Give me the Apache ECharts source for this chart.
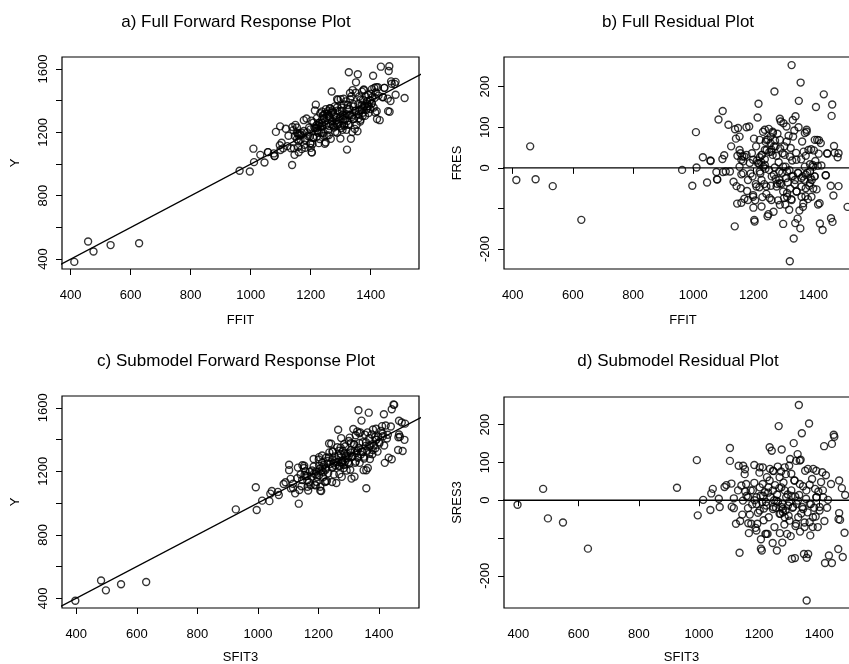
<!DOCTYPE html>
<html lang="en">
<head>
<meta charset="UTF-8" />
<title>Forward response and residual plots</title>
<script src="https://cdn.jsdelivr.net/npm/echarts@6.0.0/dist/echarts.min.js"></script>
<style>html,body{margin:0;padding:0;background:#fff}</style>
</head>
<body>
<div id="main" style="width:849px;height:664px"></div>
<script>
// full model: fitted values and residuals
const ffit = [412,458,476,533,628,963,997,1009,1011,1032,
  1046,1058,1077,1080,1084,1097,1099,1098,1103,1108,
  1117,1122,1126,1134,1138,1139,1142,1144,1146,1147,
  1149,1154,1154,1157,1158,1160,1160,1163,1166,1170,
  1170,1177,1179,1182,1186,1188,1191,1195,1199,1200,
  1202,1203,1204,1206,1208,1209,1212,1214,1217,1219,
  1220,1221,1223,1226,1227,1229,1230,1232,1233,1236,
  1238,1240,1241,1243,1244,1247,1248,1250,1251,1253,
  1254,1257,1258,1260,1261,1264,1264,1267,1270,1269,
  1271,1272,1274,1277,1279,1280,1282,1284,1286,1288,
  1289,1291,1293,1296,1297,1299,1300,1302,1303,1306,
  1307,1309,1311,1312,1314,1317,1319,1320,1321,1322,
  1324,1326,1327,1329,1331,1332,1334,1336,1337,1339,
  1340,1342,1344,1347,1348,1350,1351,1353,1356,1357,
  1359,1360,1362,1364,1366,1367,1369,1371,1373,1374,
  1377,1379,1381,1383,1386,1388,1390,1392,1394,1397,
  1399,1401,1403,1406,1408,1410,1412,1414,1417,1420,
  1421,1424,1426,1430,1434,1440,1446,1457,1458,1460,
  1462,1463,1466,1468,1470,1480,1483,1483,1513,
  1177,1199,1215,1227,1238,1243,1257,1265,1260,1274,
  1288,1299,1312,1327,1338,1349,1360,1374,1388,1399,
  1404,1371,1343,1321,1304,1288,1277,1299,1312,1327,
  1343,1360,1374,1388,1243,1227,1210,1197,1182,1166,
  1154,1160,1221,1238,1252,1268,1286,1221,1238,1310,
  1332,1199,1260,1288,1365,1393,1404,1377,1079,1057,
  1418,1445,1441,1415];
const fres = [-30,53,-28,-45,-128,-5,-44,88,1,26,
  -36,17,-10,-29,119,22,-10,140,31,-9,
  106,-9,53,-34,-144,95,72,-45,-88,30,
  98,77,44,36,-50,-86,-16,28,16,-76,
  28,100,-57,-79,102,12,-14,36,-67,-98,
  72,-128,-132,-80,-40,53,18,124,158,10,
  -48,26,-14,14,-95,32,-72,89,3,-40,
  21,-2,64,-64,44,-119,70,-114,96,39,
  -74,77,-44,45,-21,89,32,-108,188,53,
  1,67,-27,30,-39,84,-80,14,-30,121,
  48,114,-39,-12,36,-138,110,-74,53,-90,
  3,-25,65,-62,-36,79,-103,-6,-230,-51,
  49,-77,253,18,118,-20,-174,92,-40,-136,
  127,37,-58,-125,-12,100,165,-105,-149,210,
  21,-46,65,-21,-87,40,-29,86,-70,30,
  89,-12,-77,44,-44,9,-24,46,-30,7,
  -51,43,-21,17,150,-53,69,5,35,-87,
  -137,61,6,-153,181,-18,35,-44,-124,128,
  156,-133,-68,54,37,26,-45,36,-96,
  32,20,12,32,44,69,61,86,40,53,
  69,3,-9,-21,-30,-13,-25,-17,-9,3,
  -21,3,20,28,32,-38,-46,-58,-71,-79,
  -58,-71,-50,-38,-46,-30,-46,-21,-30,-13,
  3,20,-9,7,-5,-17,-9,69,94,102,
  77,-71,-79,-91,-96,-71,69,94,-28,18,
  68,36,-18,-90];

// submodel: fitted values and residuals
const sfit3 = [397,482,498,548,631,927,993,996,1014,1038,
  1041,1046,1066,1069,1085,1091,1103,1103,1108,1109,
  1116,1116,1123,1132,1135,1137,1141,1144,1147,1152,
  1153,1154,1158,1163,1164,1166,1169,1172,1177,1184,
  1184,1188,1191,1194,1196,1201,1205,1206,1206,1209,
  1212,1212,1215,1216,1219,1221,1223,1226,1228,1231,
  1232,1235,1236,1238,1242,1245,1247,1248,1251,1253,
  1256,1259,1262,1263,1265,1267,1269,1271,1273,1275,
  1277,1278,1281,1284,1285,1288,1289,1293,1295,1298,
  1300,1303,1305,1307,1309,1311,1315,1317,1319,1321,
  1323,1325,1328,1330,1332,1333,1336,1338,1342,1343,
  1346,1349,1351,1353,1356,1358,1358,1361,1363,1366,
  1368,1370,1372,1376,1378,1380,1383,1386,1388,1391,
  1395,1397,1401,1406,1410,1413,1416,1417,1419,1422,
  1426,1429,1432,1439,1442,1442,1448,1450,1466,1464,
  1466,1463,1469,1475,1478,1484,1486,
  1146,1163,1179,1191,1202,1213,1224,1235,1246,1257,
  1268,1274,1279,1290,1296,1307,1318,1329,1335,1346,
  1357,1368,1379,1390,1401,1412,1174,1191,1224,1268,
  1285,1301,1323,1351,1368,1246,1285,1307,1335,1362,
  1390,1202,1157,1130,1202,1246,1313,1274,1279,1230,
  1250,1340,1300,1320,1260,1185,1210];
const sres3 = [-12,30,-48,-59,-128,33,106,-40,1,-26,
  18,30,4,-18,35,40,138,104,44,-17,
  5,-21,-62,91,-139,-55,39,-38,91,69,
  82,23,11,-21,-61,-87,-38,26,-11,93,
  46,-73,8,-62,-33,73,12,-103,-128,-133,
  87,43,-53,-22,21,-89,-5,61,-89,34,
  -45,140,83,8,131,-113,-18,77,-71,40,
  -20,-133,89,-4,196,32,-87,-36,76,134,
  -112,-10,47,-64,26,-27,69,-89,15,-41,
  91,109,-95,11,-155,-20,151,52,-153,-68,
  104,-10,122,-45,252,14,-83,107,177,-18,
  37,-142,-59,78,4,-152,-265,-32,-142,203,
  41,-93,-10,56,-71,83,-20,30,-43,8,
  -71,23,-27,48,74,8,143,-55,-166,66,
  -20,1,-146,43,-166,149,173,168,52,-50,
  -34,-129,-52,32,-150,-86,14,
  -1,8,26,-10,34,12,-14,52,26,-1,
  61,34,-23,8,-14,26,52,-1,43,-23,
  26,-10,-45,8,-18,26,-62,-80,-89,-36,
  -45,-54,-62,-71,-58,78,87,70,105,83,
  78,87,43,26,-27,-23,-18,-18,-32,20,
  0,-35,-5,10,15,0,-5];

const fitTicks = [400, 600, 800, 1000, 1200, 1400];
const yTicks = [400, 600, 800, 1000, 1200, 1400, 1600];
const yLabels = [400, 800, 1200, 1600];
const resTicks = [-200, -100, 0, 100, 200];
const resLabels = [-200, 0, 100, 200];

const titles = ['a) Full Forward Response Plot', 'b) Full Residual Plot',
  'c) Submodel Forward Response Plot', 'd) Submodel Residual Plot'];

const font = '"Liberation Sans", Arial, Helvetica, sans-serif';

function resid(xs, rs) { return xs.map((x, i) => [x, rs[i]]); }
// response = fitted value + residual
function response(xs, rs) { return xs.map((x, i) => [x, x + rs[i]]); }

const plain = v => String(v);

function xAxis(i, min, max, name, gap) {
  return {
    type: 'value', gridIndex: i, min: min, max: max,
    name: name, nameLocation: 'middle', nameGap: gap,
    nameTextStyle: { fontSize: 13, color: '#000', fontFamily: font },
    axisLine: { show: false },
    axisTick: { show: true, length: 6, customValues: fitTicks, lineStyle: { color: '#000', width: 1 } },
    axisLabel: { customValues: fitTicks, formatter: plain, margin: 20, fontSize: 13, color: '#000', fontFamily: font },
    splitLine: { show: false }
  };
}
function yAxis(i, min, max, name, ticks, labels) {
  return {
    type: 'value', gridIndex: i, min: min, max: max,
    name: name, nameLocation: 'middle', nameGap: 40,
    nameTextStyle: { fontSize: 13, color: '#000', fontFamily: font },
    axisLine: { show: false },
    axisTick: { show: true, length: 6, customValues: ticks, lineStyle: { color: '#000', width: 1 } },
    axisLabel: { customValues: labels, formatter: plain, rotate: 90, margin: 12, fontSize: 13, color: '#000', fontFamily: font },
    splitLine: { show: false }
  };
}
function points(i, data) {
  return {
    type: 'scatter', xAxisIndex: i, yAxisIndex: i, data: data,
    symbol: 'circle', symbolSize: 7,
    itemStyle: { color: 'rgba(0,0,0,0)', borderColor: '#000', borderWidth: 1.4 },
    silent: true, z: 3
  };
}
function refLine(i, data) {
  return {
    type: 'line', xAxisIndex: i, yAxisIndex: i, data: data,
    symbol: 'none', clip: true, silent: true,
    lineStyle: { color: '#000', width: 1.3 }, z: 2
  };
}

const gridStyle = { show: true, borderColor: '#000', borderWidth: 1.2, backgroundColor: 'transparent', outerBoundsMode: 'none', containLabel: false };

const chart = echarts.init(document.getElementById('main'));
chart.setOption({
  animation: false,
  backgroundColor: '#fff',
  grid: [
    Object.assign({ left: 62, top: 57, width: 357, height: 212 }, gridStyle),
    Object.assign({ left: 504, top: 57, width: 358, height: 212 }, gridStyle),
    Object.assign({ left: 62, top: 396, width: 357, height: 212 }, gridStyle),
    Object.assign({ left: 504, top: 397, width: 355, height: 211 }, gridStyle)
  ],
  xAxis: [
    xAxis(0, 371, 1561, 'FFIT', 45),
    xAxis(1, 371, 1561, 'FFIT', 45),
    xAxis(2, 353, 1532, 'SFIT3', 43),
    xAxis(3, 352, 1532, 'SFIT3', 43)
  ],
  yAxis: [
    yAxis(0, 337, 1676, 'Y', yTicks, yLabels),
    yAxis(1, -249, 273, 'FRES', resTicks, resLabels),
    yAxis(2, 339, 1674, 'Y', yTicks, yLabels),
    yAxis(3, -285, 273, 'SRES3', resTicks, resLabels)
  ],
  graphic: [
    { x: 236, y: 22, t: titles[0] }, { x: 678, y: 22, t: titles[1] },
    { x: 236, y: 361, t: titles[2] }, { x: 678, y: 361, t: titles[3] }
  ].map(g => ({
    type: 'text', x: g.x, y: g.y, silent: true,
    style: { text: g.t, align: 'center', verticalAlign: 'middle', fill: '#000', font: '17px ' + font }
  })),
  series: [
    refLine(0, [[300, 300], [1700, 1700]]),
    points(0, response(ffit, fres)),
    refLine(1, [[300, 0], [1700, 0]]),
    points(1, resid(ffit, fres)),
    refLine(2, [[300, 300], [1700, 1700]]),
    points(2, response(sfit3, sres3)),
    refLine(3, [[300, 0], [1700, 0]]),
    points(3, resid(sfit3, sres3))
  ]
});
</script>
</body>
</html>
